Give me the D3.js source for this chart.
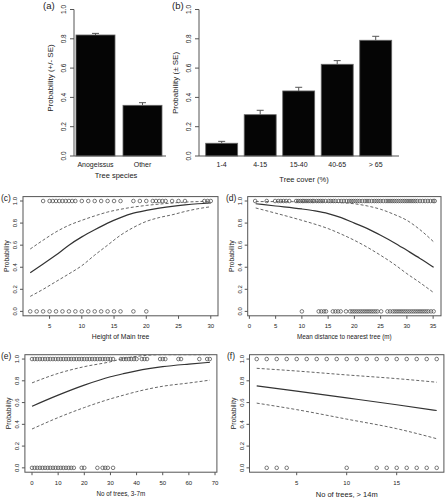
<!DOCTYPE html>
<html><head><meta charset="utf-8">
<script src="https://cdn.jsdelivr.net/npm/d3@7"></script>
<style>
body{margin:0;background:#fff}
svg{display:block}
text{font-family:"Liberation Sans",Arial,sans-serif;fill:#222}
</style>
</head><body><svg id="chart" width="445" height="500"></svg>
<script>
// ---------- data ----------
const speciesCats = ["Anogeissus", "Other"];
const speciesProb = [0.826, 0.346];
const speciesSE   = [0.011, 0.018];

const coverCats = ["1-4", "4-15", "15-40", "40-65", "> 65"];
const coverProb = [0.087, 0.282, 0.444, 0.626, 0.790];
const coverSE   = [0.013, 0.030, 0.025, 0.025, 0.027];

const probTicks = [0, 0.2, 0.4, 0.6, 0.8, 1.0];

// (c) height of main tree
const heightX     = [2, 4, 6, 8, 10, 12, 14, 16, 18, 20, 22, 24, 26, 28, 30];
const heightFit   = [0.35, 0.43, 0.51, 0.60, 0.675, 0.74, 0.80, 0.85, 0.89, 0.915, 0.935, 0.952, 0.965, 0.975, 0.982];
const heightUpper = [0.565, 0.645, 0.72, 0.78, 0.825, 0.865, 0.90, 0.925, 0.945, 0.96, 0.972, 0.982, 0.99, 0.995, 0.998];
const heightLower = [0.136, 0.20, 0.27, 0.34, 0.414, 0.51, 0.60, 0.69, 0.76, 0.815, 0.85, 0.875, 0.905, 0.93, 0.948];
const heightPresent = [4, 5, 5.5, 6, 6.5, 7, 7.5, 8, 8.5, 9, 10, 11, 12, 13, 14, 15, 16, 18, 19, 20, 21, 21.5, 22, 22.5, 23, 24, 25, 26, 29, 29.5, 30];
const heightAbsent  = [2, 3, 4, 5, 6, 7, 8, 9, 10, 11, 12, 13, 14, 15, 16, 18, 20];
const heightTicks = [5, 10, 15, 20, 25, 30];

// (d) mean distance to nearest tree
const distX     = [1.2, 5, 10, 12.5, 15, 17.5, 20, 22.5, 25, 27.5, 30, 32.5, 35.1];
const distFit   = [0.975, 0.955, 0.928, 0.91, 0.886, 0.85, 0.80, 0.75, 0.69, 0.625, 0.553, 0.48, 0.40];
const distUpper = [0.995, 0.995, 0.993, 0.992, 0.99, 0.985, 0.975, 0.955, 0.925, 0.88, 0.825, 0.74, 0.63];
const distLower = [0.937, 0.89, 0.825, 0.79, 0.75, 0.70, 0.644, 0.58, 0.508, 0.43, 0.342, 0.26, 0.17];
const distPresent = [1.1, 3.3, 4.9, 5.5, 6.0, 6.5, 7.0, 7.6, 8.9, 9.3, 9.7, 10.1, 10.4, 10.8, 11.2, 11.6, 12.0, 12.3, 12.8, 13.2, 13.6, 14.0, 14.5,
  15.1, 15.5, 16.0, 16.4, 17.0, 17.5, 18.0, 18.5, 19.0, 19.4, 19.8, 20.2, 20.6, 21.0, 21.5, 22.0, 22.4, 22.8, 23.3, 23.8, 24.2, 24.6,
  25.0, 25.5, 26.0, 26.4, 26.8, 27.2, 27.6, 28.0, 28.4, 28.8, 29.2, 29.6, 30.0, 30.4, 30.8, 31.2, 31.6, 32.0, 32.5, 33.0, 33.5, 34.0, 34.5, 35.0, 35.3];
const distAbsent = [10.0, 13.2, 13.7, 14.2, 14.6, 15.9, 16.4, 16.9, 17.4, 18.4, 19.2, 19.6, 20.0, 20.4, 20.8, 21.2, 21.6, 22.0, 22.4, 22.8,
  23.2, 23.6, 24.0, 24.4, 25.1, 26.3, 26.8, 27.3, 27.7, 28.1, 28.5, 28.9, 29.3, 29.7, 30.1, 30.5, 30.9, 31.3, 31.7, 32.1, 32.5, 32.9,
  33.3, 33.7, 34.1, 34.6, 35.1];
const distTicks = [0, 5, 10, 15, 20, 25, 30, 35];

// (e) number of trees 3-7 m
const smallX     = [0, 10, 20, 30, 35, 40, 50, 60, 68];
const smallFit   = [0.566, 0.668, 0.76, 0.837, 0.866, 0.892, 0.93, 0.954, 0.97];
const smallUpper = [0.781, 0.868, 0.93, 0.975, 1.005, 1.025, 1.04, 1.04, 1.04];
const smallLower = [0.357, 0.462, 0.554, 0.634, 0.668, 0.70, 0.75, 0.78, 0.806];
const smallPresent = [0, 1, 2, 3, 4, 5, 6, 7, 8, 9, 10, 11, 12, 13, 14, 15, 16, 17, 18, 19, 20, 21, 22, 23, 24, 25, 26, 27, 28, 29, 30, 31,
  34, 35, 36, 37, 38, 39, 40, 42, 43, 44, 49, 50, 51, 56, 57, 64, 67, 68];
const smallAbsent = [0, 1, 2, 3, 4, 5, 6, 7, 8, 9, 10, 11, 12, 13, 14, 15, 16, 19, 20, 25, 27, 28, 29, 31];
const smallTicks = [0, 10, 20, 30, 40, 50, 60, 70];

// (f) number of trees > 14 m
const bigX     = [1, 5, 10, 15, 19];
const bigFit   = [0.753, 0.705, 0.643, 0.58, 0.527];
const bigUpper = [0.915, 0.89, 0.854, 0.82, 0.787];
const bigLower = [0.595, 0.535, 0.448, 0.36, 0.268];
const bigPresent = [1, 2, 3, 4, 5, 6, 7, 8, 9, 10, 11, 12, 13, 14, 15, 16, 17, 18, 19];
const bigAbsent  = [2, 3, 4, 10, 13, 14, 15, 16, 17, 18, 19];
const bigTicks = [5, 10, 15];

// ---------- drawing ----------
const svg = d3.select("#chart");
const AX = "#555";
const fmt = d3.format(".1f");

svg.append("rect").attr("width", 445).attr("height", 500).attr("fill", "#fff");

function barPanel(o) {
  const g = svg.append("g");
  const x = d3.scaleBand().domain(o.cats).range(o.xr).paddingInner(0.17).paddingOuter(0);
  const y = d3.scaleLinear().domain([0, 1]).range([156, 9.5]);
  // y axis
  g.append("line").attr("x1", o.axisX).attr("x2", o.axisX).attr("y1", y(0)).attr("y2", y(1)).attr("stroke", AX);
  probTicks.forEach(t => {
    g.append("line").attr("x1", o.axisX - 4).attr("x2", o.axisX).attr("y1", y(t)).attr("y2", y(t)).attr("stroke", AX);
    g.append("text").attr("transform", `translate(${o.axisX - 10},${y(t)}) rotate(-90)`)
      .attr("text-anchor", "middle").attr("dy", "0.35em").attr("font-size", 6.5).text(fmt(t));
  });
  g.append("text").attr("transform", `translate(${o.labX},${o.labY}) rotate(-90)`)
    .attr("text-anchor", "middle").attr("dy", "0.35em").attr("font-size", 8).text(o.ylab);
  // bars
  o.cats.forEach((c, i) => {
    g.append("rect").attr("x", x(c)).attr("y", y(o.vals[i])).attr("width", x.bandwidth())
      .attr("height", y(0) - y(o.vals[i])).attr("fill", "#050505").attr("stroke", "#666").attr("stroke-width", 0.8);
    const cx = x(c) + x.bandwidth() / 2;
    const top = y(o.vals[i] + o.se[i]);
    g.append("line").attr("x1", cx).attr("x2", cx).attr("y1", y(o.vals[i])).attr("y2", top).attr("stroke", "#555");
    g.append("line").attr("x1", cx - 3.5).attr("x2", cx + 3.5).attr("y1", top).attr("y2", top).attr("stroke", "#555");
    g.append("text").attr("x", cx).attr("y", 167).attr("text-anchor", "middle").attr("font-size", 7).text(c);
  });
  // baseline
  g.append("line").attr("x1", o.axisX).attr("x2", o.baseEnd).attr("y1", y(0)).attr("y2", y(0)).attr("stroke", AX);
  g.append("text").attr("x", o.titleX).attr("y", o.titleY).attr("text-anchor", "middle").attr("font-size", 7.5).text(o.xlab);
  g.append("text").attr("x", o.tagX).attr("y", 9).attr("font-size", 9.5).text(o.tag);
}

barPanel({cats: speciesCats, vals: speciesProb, se: speciesSE, xr: [76, 162], axisX: 74, baseEnd: 166,
  ylab: "Probability (+/- SE)", labX: 50, labY: 78, xlab: "Tree species", titleX: 116, titleY: 178, tag: "(a)", tagX: 43});
barPanel({cats: coverCats, vals: coverProb, se: coverSE, xr: [205.7, 391.7], axisX: 199, baseEnd: 399,
  ylab: "Probability (\u00b1 SE)", labX: 175, labY: 83, xlab: "Tree cover (%)", titleX: 304, titleY: 182, tag: "(b)", tagX: 172});

let clipId = 0;
function logitPanel(o) {
  const g = svg.append("g");
  const x = d3.scaleLinear().domain(o.xd).range(o.xr);
  const y = d3.scaleLinear().domain([-0.04, 1.04]).range(o.yr);
  const id = "clip" + (clipId++);
  svg.append("clipPath").attr("id", id).append("rect")
    .attr("x", o.xr[0]).attr("y", o.yr[1]).attr("width", o.xr[1] - o.xr[0]).attr("height", o.yr[0] - o.yr[1]);
  // box
  g.append("rect").attr("x", o.xr[0]).attr("y", o.yr[1]).attr("width", o.xr[1] - o.xr[0]).attr("height", o.yr[0] - o.yr[1])
    .attr("fill", "none").attr("stroke", AX).attr("stroke-width", 1);
  // y ticks
  probTicks.forEach(t => {
    g.append("line").attr("x1", o.xr[0] - 3).attr("x2", o.xr[0]).attr("y1", y(t)).attr("y2", y(t)).attr("stroke", AX);
    g.append("text").attr("transform", `translate(${o.xr[0] - 8},${y(t)}) rotate(-90)`)
      .attr("text-anchor", "middle").attr("dy", "0.35em").attr("font-size", 6).text(fmt(t));
  });
  g.append("text").attr("transform", `translate(${o.xr[0] - 16},${(o.yr[0] + o.yr[1]) / 2}) rotate(-90)`)
    .attr("text-anchor", "middle").attr("dy", "0.35em").attr("font-size", 6.8).text("Probability");
  // x ticks
  o.xt.forEach(t => {
    g.append("line").attr("x1", x(t)).attr("x2", x(t)).attr("y1", o.yr[0]).attr("y2", o.yr[0] + 3).attr("stroke", AX);
    g.append("text").attr("x", x(t)).attr("y", o.yr[0] + 12.5).attr("text-anchor", "middle").attr("font-size", 6).text(t);
  });
  g.append("text").attr("x", (o.xr[0] + o.xr[1]) / 2).attr("y", o.titleY).attr("text-anchor", "middle")
    .attr("font-size", o.titleSize).text(o.xlab);
  g.append("text").attr("x", o.tagX).attr("y", o.yr[1] + 4).attr("font-size", 8.5).text(o.tag);
  // points
  const pts = o.pres.map(v => [v, 1]).concat(o.abs.map(v => [v, 0]));
  g.selectAll(null).data(pts).enter().append("circle")
    .attr("cx", d => x(d[0])).attr("cy", d => y(d[1])).attr("r", 1.8)
    .attr("fill", "none").attr("stroke", "#444").attr("stroke-width", 0.7);
  // curves
  const line = d3.line().x((d, i) => x(o.cx[i])).y(d => y(d)).curve(d3.curveMonotoneX);
  const cg = g.append("g").attr("clip-path", `url(#${id})`);
  cg.append("path").attr("d", line(o.upper)).attr("fill", "none").attr("stroke", "#555").attr("stroke-width", 0.9).attr("stroke-dasharray", "3,2");
  cg.append("path").attr("d", line(o.lower)).attr("fill", "none").attr("stroke", "#555").attr("stroke-width", 0.9).attr("stroke-dasharray", "3,2");
  cg.append("path").attr("d", line(o.fit)).attr("fill", "none").attr("stroke", "#333").attr("stroke-width", 1.2);
}

logitPanel({xd: [0.88, 31.12], xr: [23, 218], yr: [315.8, 196.6], xt: heightTicks,
  cx: heightX, fit: heightFit, upper: heightUpper, lower: heightLower, pres: heightPresent, abs: heightAbsent,
  xlab: "Height of Main tree", titleY: 339, titleSize: 6.8, tag: "(c)", tagX: 1});
logitPanel({xd: [-0.32, 36.5], xr: [247.7, 441], yr: [315.8, 196.6], xt: distTicks,
  cx: distX, fit: distFit, upper: distUpper, lower: distLower, pres: distPresent, abs: distAbsent,
  xlab: "Mean distance to nearest tree (m)", titleY: 339, titleSize: 6.3, tag: "(d)", tagX: 226});
logitPanel({xd: [-2.72, 70.72], xr: [24.9, 216.9], yr: [472.2, 354.7], xt: smallTicks,
  cx: smallX, fit: smallFit, upper: smallUpper, lower: smallLower, pres: smallPresent, abs: smallAbsent,
  xlab: "No of trees, 3-7m", titleY: 496, titleSize: 6.3, tag: "(e)", tagX: 1});
logitPanel({xd: [0.28, 19.72], xr: [249.5, 443.9], yr: [472.2, 354.7], xt: bigTicks,
  cx: bigX, fit: bigFit, upper: bigUpper, lower: bigLower, pres: bigPresent, abs: bigAbsent,
  xlab: "No of trees, > 14m", titleY: 497, titleSize: 7.5, tag: "(f)", tagX: 227});
</script>
</body></html>
